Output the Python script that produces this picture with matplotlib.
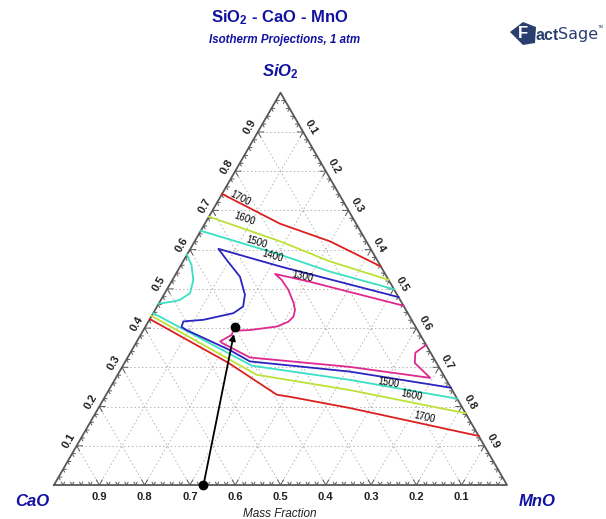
import numpy as np
import matplotlib.pyplot as plt
from matplotlib.patches import Polygon

plt.rcParams['font.family'] = ['Liberation Sans', 'DejaVu Sans']
plt.rcParams['mathtext.fontset'] = 'custom'
plt.rcParams['mathtext.rm'] = 'Liberation Sans'
plt.rcParams['mathtext.bf'] = 'Liberation Sans:bold'
plt.rcParams['mathtext.it'] = 'Liberation Sans:italic'

# isotherms, mass fractions (SiO2, MnO); CaO = 1 - SiO2 - MnO
t1700_a_sio2 = [0.742, 0.666, 0.621, 0.557]
t1700_a_mno = [0.0, 0.166, 0.299, 0.443]
t1700_b_sio2 = [0.423, 0.311, 0.230, 0.225, 0.196, 0.125]
t1700_b_mno = [0.0, 0.230, 0.377, 0.408, 0.556, 0.875]

t1600_a_sio2 = [0.684, 0.621, 0.570, 0.523]
t1600_a_mno = [0.0, 0.189, 0.324, 0.477]
t1600_b_sio2 = [0.431, 0.281, 0.242, 0.183]
t1600_b_mno = [0.0, 0.307, 0.532, 0.817]

t1500_a_sio2 = [0.648, 0.587, 0.544, 0.499]
t1500_a_mno = [0.0, 0.206, 0.337, 0.501]
t1500_b_sio2 = [0.438, 0.304, 0.268, 0.220]
t1500_b_mno = [0.0, 0.285, 0.519, 0.780]
t1500_c_sio2 = [0.587, 0.561, 0.523, 0.489, 0.472, 0.468, 0.462]
t1500_c_mno = [0.0, 0.023, 0.046, 0.056, 0.042, 0.030, 0.0]

t1400_sio2 = [0.479, 0.557, 0.602, 0.574, 0.531, 0.485, 0.455, 0.438, 0.421,
              0.417, 0.403, 0.395, 0.344, 0.315, 0.289, 0.248]
t1400_mno = [0.521, 0.221, 0.062, 0.094, 0.145, 0.179, 0.190, 0.177, 0.119,
             0.077, 0.080, 0.095, 0.216, 0.275, 0.509, 0.752]

t1300_sio2 = [0.457, 0.518, 0.538, 0.523, 0.497, 0.464, 0.446, 0.429, 0.416,
              0.404, 0.395, 0.393, 0.383, 0.366, 0.362, 0.325, 0.301, 0.273,
              0.311, 0.337, 0.357]
t1300_mno = [0.543, 0.306, 0.219, 0.241, 0.269, 0.297, 0.309, 0.314, 0.309,
             0.290, 0.235, 0.199, 0.201, 0.184, 0.190, 0.270, 0.503, 0.694,
             0.641, 0.629, 0.643]

# contour labels: text, SiO2, MnO (points on the line)
iso_labels = ['1700', '1600', '1500', '1400', '1300', '1500', '1600', '1700']
lab_sio2 = [0.716, 0.664, 0.603, 0.568, 0.516, 0.245, 0.212, 0.157]
lab_mno = [0.049, 0.086, 0.143, 0.196, 0.288, 0.613, 0.681, 0.738]

# arrow: from composition on the CaO-MnO edge to the point inside
arrow_sio2 = [0.0, 0.402]
arrow_mno = [0.33, 0.199]

tick_vals = [0.1, 0.2, 0.3, 0.4, 0.5, 0.6, 0.7, 0.8, 0.9]

S3 = np.sqrt(3) / 2


def tern(sio2, mno):
    sio2 = np.asarray(sio2, dtype=float)
    mno = np.asarray(mno, dtype=float)
    return mno + sio2 / 2, sio2 * S3


fig = plt.figure(figsize=(6.06, 5.19), dpi=100)
ax = fig.add_axes([54 / 606, 34 / 519, 453 / 606, 392.3 / 519])
ax.set_xlim(0, 1)
ax.set_ylim(0, S3)
ax.axis('off')

# grid
gkw = dict(color='#b4b4b4', lw=0.7, ls=(0, (1.5, 2.5)), zorder=1)
for v in tick_vals:
    ax.plot(*tern([v, v], [0, 1 - v]), **gkw)
    ax.plot(*tern([0, 1 - v], [v, v]), **gkw)
    ax.plot(*tern([0, 1 - v], [1 - v, 0]), **gkw)

# frame
ax.plot(*tern([0, 0, 1, 0], [0, 1, 0, 0]), color='#585858', lw=1.3, zorder=3,
        clip_on=False)

# ticks
for k in range(1, 50):
    v = k * 0.02
    L = 0.013 if k % 5 == 0 else 0.007
    x0, y0 = tern(0, 1 - v)
    ax.plot([x0 - L * 0.5, x0, x0 + L * 0.5], [y0 + L * S3, y0, y0 + L * S3],
            color='#585858', lw=0.7, zorder=3)
    x0, y0 = tern(v, 0)
    ax.plot([x0 + L, x0, x0 + L * 0.5], [y0, y0, y0 - L * S3],
            color='#585858', lw=0.7, zorder=3)
    x0, y0 = tern(1 - v, v)
    ax.plot([x0 - L, x0, x0 - L * 0.5], [y0, y0, y0 - L * S3],
            color='#585858', lw=0.7, zorder=3)

# tick labels
lkw = dict(fontsize=8, fontweight='bold', color='#202020', ha='center',
           va='center')
off = 0.021
for v in tick_vals:
    x0, y0 = tern(0, 1 - v)
    ax.text(x0, y0 - 0.027, f'{v:.1f}', **lkw)
    x0, y0 = tern(v, 0)
    ax.text(x0 - off * S3, y0 + off * 0.5, f'{v:.1f}', rotation=60, **lkw)
    x0, y0 = tern(1 - v, v)
    ax.text(x0 + off * S3, y0 + off * 0.5, f'{v:.1f}', rotation=-60, **lkw)

# isotherms
lines = [
    (t1700_a_sio2, t1700_a_mno, '#dc2020'),
    (t1700_b_sio2, t1700_b_mno, '#dc2020'),
    (t1600_a_sio2, t1600_a_mno, '#bce236'),
    (t1600_b_sio2, t1600_b_mno, '#bce236'),
    (t1500_a_sio2, t1500_a_mno, '#3ae0c4'),
    (t1500_b_sio2, t1500_b_mno, '#3ae0c4'),
    (t1500_c_sio2, t1500_c_mno, '#3ae0c4'),
    (t1400_sio2, t1400_mno, '#2a24c0'),
    (t1300_sio2, t1300_mno, '#e0288e'),
]
for s, m, c in lines:
    ax.plot(*tern(s, m), color=c, lw=1.3, zorder=4)

# labels sitting just above the isotherms
fig.canvas.draw()
all_pts = [ax.transData.transform(np.column_stack(tern(s, m))) for s, m, c in lines]
for txt, s, m in zip(iso_labels, lab_sio2, lab_mno):
    px = ax.transData.transform(np.column_stack(tern([s], [m])))[0]
    best = None
    for P in all_pts:
        for a, b in zip(P[:-1], P[1:]):
            d = b - a
            t = np.clip(np.dot(px - a, d) / np.dot(d, d), 0, 1)
            dist = np.linalg.norm(a + t * d - px)
            if best is None or dist < best[0]:
                best = (dist, d)
    d = best[1]
    ang = np.degrees(np.arctan2(d[1], d[0]))
    if ang > 90:
        ang -= 180
    if ang < -90:
        ang += 180
    x, y = tern(s, m)
    ax.annotate(txt, (x, y), xytext=(0, 1), textcoords='offset points',
                fontsize=7, rotation=ang, rotation_mode='anchor',
                ha='center', va='bottom', color='black', zorder=5)

# arrow and points
ax_x, ax_y = tern(arrow_sio2, arrow_mno)
ax.annotate('', xy=(ax_x[1], ax_y[1]), xytext=(ax_x[0], ax_y[0]),
            arrowprops=dict(arrowstyle='-|>', color='black', lw=1.3,
                            mutation_scale=9, shrinkA=0, shrinkB=5),
            zorder=6)
ax.plot(ax_x, ax_y, 'o', color='black', ms=6, zorder=7, clip_on=False)

# titles and corner names
blue = '#1212a0'
fig.text(280 / 606, 1 - 18 / 519, r'SiO$_\mathbf{2}$ - CaO - MnO', fontsize=12,
         fontweight='bold', color=blue, ha='center', va='center')
fig.text(285 / 606, 1 - 40 / 519, 'Isotherm Projections, 1 atm', fontsize=8.3,
         fontweight='bold', style='italic', color=blue, ha='center', va='center')
fig.text(280 / 606, 1 - 72 / 519, r'SiO$_\mathbf{2}$', fontsize=12,
         fontweight='bold', style='italic', color=blue, ha='center', va='center')
fig.text(32 / 606, 1 - 501 / 519, 'CaO', fontsize=12, fontweight='bold',
         style='italic', color=blue, ha='center', va='center')
fig.text(537 / 606, 1 - 501 / 519, 'MnO', fontsize=12, fontweight='bold',
         style='italic', color=blue, ha='center', va='center')
fig.text(280 / 606, 1 - 514 / 519, 'Mass Fraction', fontsize=8.5, style='italic',
         color='#202020', ha='center', va='center')

# FactSage logo
logo = '#2a3f6f'
fig.patches.append(Polygon([[510 / 606, 1 - 32 / 519], [523 / 606, 1 - 22 / 519],
                            [536 / 606, 1 - 27 / 519], [535 / 606, 1 - 43 / 519],
                            [523 / 606, 1 - 45 / 519]],
                           closed=True, transform=fig.transFigure,
                           facecolor=logo, edgecolor='none'))
fig.text(523 / 606, 1 - 34 / 519, 'F', fontsize=12, fontweight='bold',
         color='white', ha='center', va='center')
renderer = fig.canvas.get_renderer()
t_act = fig.text(536 / 606, 1 - 35 / 519, 'act', fontsize=11.5, fontweight='bold',
                 color=logo, ha='left', va='center')
x_end = t_act.get_window_extent(renderer).x1 / fig.bbox.width
t_sage = fig.text(x_end - 0.002, 1 - 34 / 519, 'Sage', fontsize=11.5, color=logo,
                  ha='left', va='center', family='Liberation Sans Narrow')
x_end = t_sage.get_window_extent(renderer).x1 / fig.bbox.width
fig.text(x_end, 1 - 27 / 519, 'TM', fontsize=3, color=logo, ha='left',
         va='center')

fig.savefig('out.png', dpi=100)
